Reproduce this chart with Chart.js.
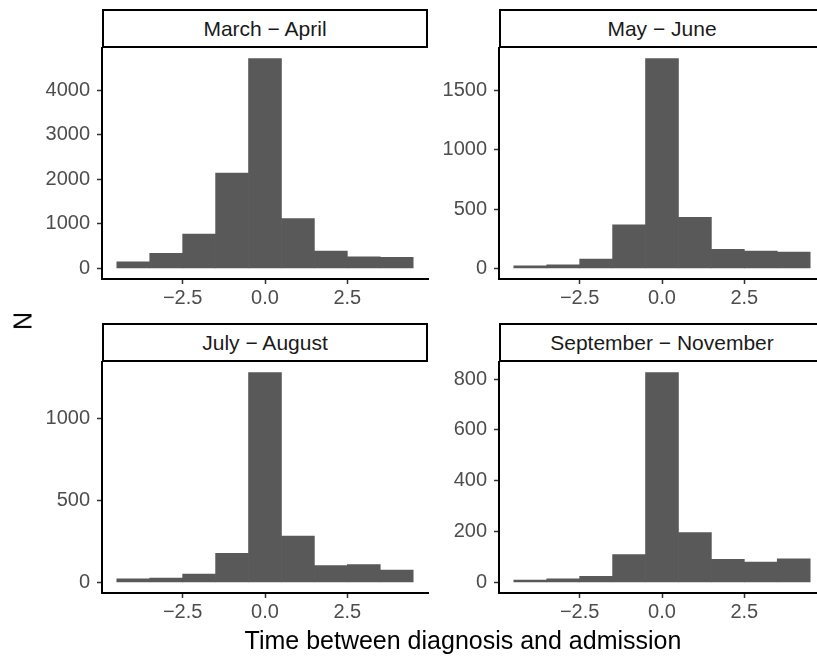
<!DOCTYPE html>
<html><head><meta charset="utf-8">
<script src="https://cdn.jsdelivr.net/npm/chart.js@4"></script>
<style>
html,body{margin:0;padding:0;background:#fff;overflow:hidden;}
#wrap{position:relative;width:817px;height:660px;overflow:hidden;font-family:"Liberation Sans",Arial,sans-serif;background:#fff;}
canvas{position:absolute;}
.strip{position:absolute;box-sizing:border-box;border:2px solid #000;background:#fff;display:flex;align-items:center;justify-content:center;font-size:21px;color:#1a1a1a;white-space:nowrap;}
.title{position:absolute;color:#000;font-size:25px;line-height:25px;white-space:nowrap;}
</style>
</head><body>
<div id="wrap">
  <canvas id="c1" width="440" height="280" style="left:0px;top:40px;width:440px;height:280px"></canvas>
  <canvas id="c2" width="440" height="280" style="left:397px;top:40px;width:440px;height:280px"></canvas>
  <canvas id="c3" width="440" height="280" style="left:0px;top:354px;width:440px;height:280px"></canvas>
  <canvas id="c4" width="440" height="280" style="left:397px;top:354px;width:440px;height:280px"></canvas>
  <div class="strip" id="s1" style="left:102px;top:9px;width:326px;height:39px"></div>
  <div class="strip" id="s2" style="left:499px;top:9px;width:326px;height:39px"></div>
  <div class="strip" id="s3" style="left:102px;top:323px;width:326px;height:39px"></div>
  <div class="strip" id="s4" style="left:499px;top:323px;width:326px;height:39px"></div>
  <div class="title" id="xt" style="left:463px;top:628px;transform:translateX(-50%)"></div>
  <div class="title" id="yt" style="left:23px;top:321px;transform:translate(-50%,-50%) rotate(-90deg)"></div>
</div>
<script>
// ---- data ----
const binCenters = [-4, -3, -2, -1, 0, 1, 2, 3, 4];
const panelTitles = ["March \u2212 April", "May \u2212 June", "July \u2212 August", "September \u2212 November"];
const marchApril = [150, 340, 770, 2140, 4710, 1120, 390, 260, 250];
const mayJune = [22, 31, 79, 367, 1768, 431, 161, 147, 138];
const julyAugust = [22, 27, 51, 178, 1284, 284, 104, 110, 76];
const septNov = [10, 14, 24, 110, 826, 196, 91, 80, 93];
const xTickValues = [-2.5, 0, 2.5];
const xTickLabels = ["\u22122.5", "0.0", "2.5"];
const yTicks1 = [0, 1000, 2000, 3000, 4000];
const yTicks2 = [0, 500, 1000, 1500];
const yTicks3 = [0, 500, 1000];
const yTicks4 = [0, 200, 400, 600, 800];
const xTitle = "Time between diagnosis and admission";
const yTitle = "N";

// ---- drawing ----
document.getElementById('xt').textContent = xTitle;
document.getElementById('yt').textContent = yTitle;
['s1','s2','s3','s4'].forEach((id,i)=>{document.getElementById(id).textContent = panelTitles[i];});

const FONT = "'Liberation Sans', Arial, sans-serif";
const binWidth = binCenters[1] - binCenters[0];
const xLo = binCenters[0] - binWidth/2, xHi = binCenters[binCenters.length-1] + binWidth/2;
const xPad = (xHi - xLo) * 0.05;

function makePanel(id, values, yTicks) {
  const maxV = Math.max(...values);
  new Chart(document.getElementById(id), {
    type: 'bar',
    data: {
      datasets: [{
        data: binCenters.map((x, i) => ({x: x, y: values[i]})),
        backgroundColor: '#595959',
        borderWidth: 0,
        barPercentage: 1,
        categoryPercentage: 1
      }]
    },
    options: {
      responsive: false,
      maintainAspectRatio: false,
      devicePixelRatio: 1,
      animation: false,
      layout: {padding: {top: 8, left: 0, right: 12, bottom: 5}},
      plugins: {legend: {display: false}, tooltip: {enabled: false}},
      scales: {
        x: {
          type: 'linear',
          offset: false,
          bounds: 'data',
          min: xLo - xPad,
          max: xHi + xPad,
          afterBuildTicks: s => { s.ticks = xTickValues.map(v => ({value: v})); },
          afterFit: s => { s.height = 36; s.paddingLeft = 0; s.paddingRight = 0; },
          grid: {display: true, offset: false, drawOnChartArea: false, drawTicks: true, tickLength: 5, tickColor: '#333333', tickWidth: 1.5},
          border: {display: true, color: '#000', width: 2},
          ticks: {
            color: '#4d4d4d', padding: 2, maxRotation: 0, autoSkip: false,
            font: {family: FONT, size: 20},
            callback: v => { const k = xTickValues.indexOf(v); return k >= 0 ? xTickLabels[k] : ''; }
          }
        },
        y: {
          type: 'linear',
          bounds: 'data',
          min: -0.05 * maxV,
          max: 1.05 * maxV,
          afterBuildTicks: s => { s.ticks = yTicks.map(v => ({value: v})); },
          afterFit: s => { s.width = 102; s.paddingTop = 0; s.paddingBottom = 0; },
          grid: {display: true, drawOnChartArea: false, drawTicks: true, tickLength: 5, tickColor: '#333333', tickWidth: 1.5},
          border: {display: true, color: '#000', width: 2},
          ticks: {
            color: '#4d4d4d', padding: 7, autoSkip: false,
            font: {family: FONT, size: 20},
            callback: v => String(v)
          }
        }
      }
    }
  });
}
makePanel('c1', marchApril, yTicks1);
makePanel('c2', mayJune, yTicks2);
makePanel('c3', julyAugust, yTicks3);
makePanel('c4', septNov, yTicks4);
</script>
</body></html>
